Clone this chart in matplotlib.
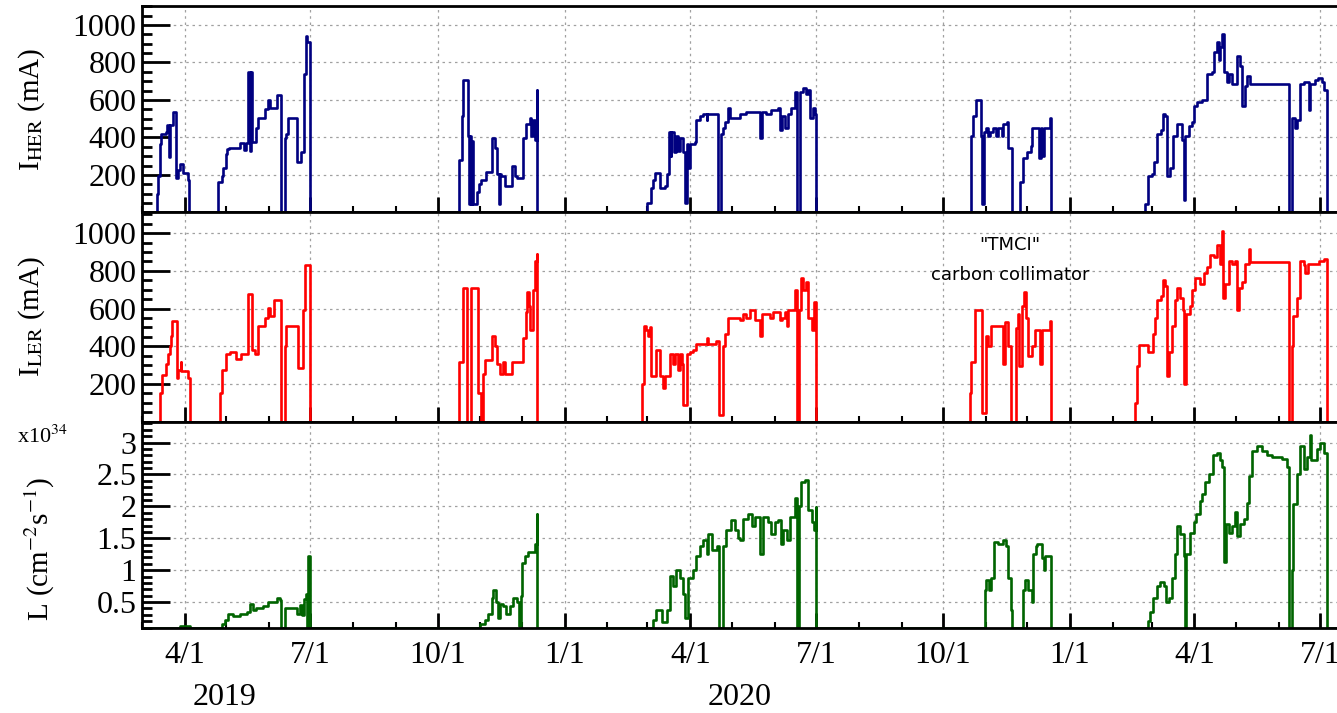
import numpy as np
import pandas as pd
import matplotlib
matplotlib.use("Agg")
import matplotlib.pyplot as plt
import matplotlib.dates as mdates
from matplotlib.ticker import MultipleLocator

# days counted from 2019-03-01, value holds until the next point
start = pd.Timestamp("2019-03-01")
x_end_day = 865.3

her = [
    (0, 0), (10.9, 96), (11.9, 192), (12.9, 363), (14.1, 417), (17.2, 427), (18.1, 466), (19.6, 295), (20.6, 466),
    (22.1, 538), (24.5, 182), (26.1, 224), (27.4, 256), (29.8, 209), (33.4, 171), (34.1, 0),
    (55.1, 160), (57.6, 192), (58.7, 235), (60.5, 310), (61.6, 338), (62.9, 346), (70.8, 368), (73.9, 335),
    (75.2, 368), (76.8, 748), (78.5, 330), (79.0, 748), (80.0, 374), (82.9, 449), (84.1, 502), (88.9, 551),
    (91.3, 598), (93.0, 556), (97.4, 624), (101.0, 0), (103.4, 395), (104.6, 417), (105.8, 502), (112.3, 267),
    (115.5, 320), (117.2, 737), (118.4, 940), (119.8, 908), (121.5, 0),
    (229.6, 278), (231.4, 513), (232.5, 705), (236.1, 406), (237.0, 43), (237.6, 406), (238.3, 43), (239.0, 380),
    (239.6, 43), (242.6, 107), (244.1, 150), (245.8, 171), (249.4, 214), (253.8, 395), (255.5, 342), (257.1, 203),
    (258.6, 43), (259.3, 203), (260.3, 192), (262.7, 139), (267.6, 246), (270.0, 192), (271.2, 182), (276.0, 395),
    (278.4, 470), (280.8, 502), (282.0, 406), (283.2, 491), (284.4, 385), (285.7, 652), (286.1, 0),
    (366.0, 53), (368.9, 128), (370.1, 171), (371.3, 209), (374.9, 128), (378.5, 139), (379.8, 203), (381.7, 427),
    (382.7, 299), (383.4, 427), (385.1, 320), (386.5, 410), (388.0, 330), (389.4, 395), (391.8, 320), (393.0, 53),
    (394.3, 363), (395.4, 235), (396.7, 363), (400.3, 374), (401.0, 491), (403.9, 513), (406.3, 524), (408.8, 491),
    (409.3, 524), (417.2, 0), (419.6, 417), (420.8, 449), (422.0, 481), (424.4, 556), (425.6, 502), (432.9, 524),
    (437.7, 534), (447.3, 395), (448.6, 534), (452.2, 524), (455.8, 545), (460.6, 556), (461.8, 438), (463.1, 513),
    (465.5, 449), (467.9, 524), (470.3, 556), (472.7, 641), (474.4, 0), (476.3, 641), (478.7, 662), (480.7, 630),
    (482.3, 652), (483.6, 502), (486.0, 556), (487.2, 524), (488.4, 0),
    (600.6, 406), (601.8, 513), (603.8, 598), (607.2, 406), (608.6, 43), (609.5, 427), (611.5, 449), (612.7, 406),
    (614.4, 427), (616.3, 453), (618.7, 406), (619.9, 453), (622.4, 406), (623.5, 470), (626.0, 481), (627.1, 342),
    (630.3, 0), (635.6, 160), (637.6, 288), (640.5, 320), (643.4, 353), (644.8, 449), (646.5, 453), (649.4, 288),
    (650.9, 453), (651.6, 300), (652.8, 453), (657.6, 502), (658.1, 0),
    (726.4, 43), (728.8, 192), (731.2, 203), (732.9, 267), (734.9, 417), (737.8, 438), (739.2, 524), (740.8, 513),
    (742.1, 192), (744.5, 235), (746.9, 406), (749.3, 470), (752.9, 385), (754.2, 64), (755.3, 406), (757.8, 459),
    (760.2, 481), (761.4, 566), (763.8, 588), (767.4, 598), (771.1, 737), (774.7, 748), (775.9, 855), (778.3, 908),
    (779.6, 812), (780.5, 880), (781.9, 951), (783.2, 748), (785.6, 694), (787.3, 737), (789.2, 684), (792.9, 833),
    (794.8, 780), (796.5, 566), (798.8, 673), (800.1, 726), (802.4, 684), (830.2, 0), (832.6, 502), (835.0, 449),
    (836.3, 491), (838.6, 684), (841.1, 694), (844.7, 545), (845.8, 684), (849.5, 705), (851.9, 716), (854.3, 694),
    (856.0, 652), (858.4, 0), (866, 0),
]

ler = [
    (0, 0), (13.4, 154), (14.3, 246), (17.7, 304), (18.9, 358), (20.1, 400), (20.9, 454), (21.8, 535), (25.0, 229),
    (26.1, 276), (27.9, 315), (28.6, 268), (33.4, 229), (34.6, 0),
    (56.3, 154), (57.6, 272), (60.7, 358), (63.6, 368), (68.4, 330), (72.0, 358), (76.8, 679), (79.3, 379),
    (81.7, 358), (84.1, 507), (88.9, 550), (91.3, 604), (93.0, 561), (95.4, 647), (101.0, 0), (103.4, 400),
    (104.6, 507), (113.0, 283), (116.7, 593), (117.9, 829), (121.5, 0),
    (229.6, 315), (232.1, 711), (235.4, 0), (237.9, 711), (243.4, 154), (245.8, 0), (247.0, 250), (248.2, 325),
    (253.1, 454), (255.5, 400), (256.7, 304), (259.1, 250), (261.5, 315), (262.7, 250), (267.6, 315), (276.0, 443),
    (278.0, 582), (278.9, 690), (280.3, 615), (281.3, 486), (283.2, 700), (284.4, 850), (285.7, 889), (286.1, 0),
    (361.7, 197), (363.4, 507), (364.8, 486), (366.5, 454), (367.7, 503), (368.9, 240), (372.1, 379), (375.4, 240),
    (376.9, 176), (378.5, 240), (382.2, 358), (384.6, 304), (385.8, 358), (388.2, 272), (389.4, 358), (390.7, 304),
    (391.8, 90), (394.3, 358), (396.7, 368), (399.1, 379), (401.5, 411), (408.8, 443), (409.7, 411), (415.5, 426),
    (417.9, 36), (420.4, 400), (422.0, 465), (424.4, 550), (432.9, 540), (435.3, 572), (437.7, 550), (440.1, 593),
    (443.8, 540), (447.3, 454), (448.6, 572), (454.6, 550), (457.0, 582), (461.8, 540), (463.1, 550), (465.5, 582),
    (466.7, 507), (467.9, 593), (472.7, 700), (474.4, 0), (475.8, 593), (476.9, 764), (478.7, 700), (480.7, 743),
    (482.3, 550), (484.8, 486), (486.5, 636), (487.9, 0),
    (599.4, 154), (600.6, 315), (603.0, 593), (608.6, 47), (611.0, 454), (612.7, 400), (615.1, 507), (623.5, 304),
    (624.7, 529), (627.1, 400), (628.9, 0), (632.7, 497), (634.2, 572), (635.1, 293), (636.9, 615), (638.5, 690),
    (640.0, 550), (641.6, 347), (644.1, 400), (646.5, 486), (650.3, 304), (651.6, 486), (657.6, 533), (658.1, 0),
    (719.1, 101), (720.3, 293), (721.6, 405), (728.8, 368), (732.4, 465), (733.6, 550), (735.3, 647), (737.7, 668),
    (739.2, 754), (740.8, 722), (742.1, 240), (744.0, 368), (745.7, 507), (748.1, 647), (749.8, 711), (751.5, 657),
    (753.7, 593), (754.6, 197), (756.1, 572), (758.5, 615), (760.2, 700), (762.6, 764), (766.2, 732), (768.7, 786),
    (771.1, 818), (773.5, 882), (775.9, 872), (778.3, 936), (780.3, 839), (781.9, 1011), (782.7, 657), (784.3, 732),
    (786.8, 850), (789.2, 839), (791.4, 850), (792.9, 593), (794.1, 711), (796.5, 743), (798.8, 839), (801.3, 914),
    (802.4, 846), (830.2, 0), (832.6, 400), (833.8, 561), (836.3, 657), (838.2, 850), (841.1, 829), (842.3, 786),
    (844.0, 839), (852.0, 850), (855.6, 861), (858.4, 0), (866, 0),
]

lum = [
    (0, 0), (27.5, 0.13), (34.6, 0),
    (57.6, 0.15), (60.0, 0.22), (62.3, 0.31), (66.0, 0.28), (70.8, 0.31), (75.7, 0.34), (78.1, 0.47), (80.5, 0.37),
    (82.9, 0.41), (87.7, 0.44), (91.3, 0.50), (97.4, 0.56), (100.0, 0.53), (101.0, 0), (103.4, 0.41), (112.3, 0.31),
    (114.5, 0.45), (116.0, 0.30), (117.0, 0.55), (118.8, 0.62), (119.3, 0), (120.5, 1.22), (121.8, 0),
    (244.6, 0.15), (248.2, 0.22), (250.6, 0.31), (253.1, 0.56), (254.3, 0.69), (256.2, 0.5), (257.9, 0.25),
    (259.1, 0.47), (261.5, 0.44), (263.9, 0.31), (266.3, 0.44), (268.7, 0.56), (271.2, 0.5), (273.1, 0.12),
    (274.1, 0.59), (275.5, 1.12), (277.2, 1.22), (279.6, 1.28), (284.4, 1.41), (285.7, 1.875), (286.1, 0),
    (370.1, 0.22), (372.1, 0.37), (376.2, 0.19), (379.8, 0.37), (382.2, 0.91), (384.6, 0.75), (387.0, 1.0),
    (389.4, 0.875), (391.8, 0.625), (393.0, 0.25), (395.4, 0.875), (399.1, 1.0), (401.5, 1.22), (403.9, 1.375),
    (406.3, 1.47), (408.8, 1.25), (409.9, 1.56), (412.4, 1.31), (416.0, 1.375), (417.9, 0), (420.4, 1.375),
    (423.2, 1.625), (426.8, 1.78), (429.2, 1.625), (431.6, 1.5), (432.9, 1.47), (435.3, 1.81), (438.9, 1.875),
    (441.4, 1.69), (443.8, 1.84), (447.3, 1.25), (449.8, 1.84), (453.4, 1.75), (455.8, 1.56), (458.2, 1.75),
    (460.6, 1.78), (462.4, 1.41), (464.3, 1.625), (466.7, 1.47), (469.1, 1.84), (472.7, 2.125), (474.4, 0),
    (475.8, 2.0), (477.5, 2.375), (479.9, 2.41), (482.3, 1.94), (484.8, 1.75), (486.5, 1.625), (487.9, 1.99),
    (488.4, 0),
    (610.3, 0.69), (611.5, 0.84), (613.4, 0.69), (615.1, 0.875), (616.8, 1.44), (619.9, 1.41), (623.5, 1.47),
    (625.5, 1.375), (627.1, 0.875), (628.9, 0.375), (630.3, 0), (637.6, 0.69), (639.3, 0.84), (641.6, 0.69),
    (644.1, 0.5), (645.3, 1.25), (647.7, 1.375), (648.0, 1.41), (651.6, 1.19), (652.8, 1.0), (653.7, 1.22),
    (658.1, 0),
    (728.8, 0.2), (730.0, 0.34), (732.4, 0.56), (734.9, 0.75), (737.3, 0.81), (739.7, 0.75), (741.6, 0.5),
    (743.4, 0.56), (745.7, 0.875), (748.1, 1.25), (749.8, 1.69), (751.7, 1.56), (754.2, 1.22), (754.9, 0),
    (756.1, 1.25), (758.5, 1.59), (761.4, 1.75), (763.3, 1.875), (766.2, 2.09), (767.4, 2.19), (769.8, 2.375),
    (772.3, 2.5), (775.4, 2.81), (778.3, 2.84), (780.3, 2.72), (781.9, 2.625), (783.2, 1.125), (785.1, 1.72),
    (786.8, 1.59), (789.2, 1.69), (791.6, 1.91), (792.9, 1.53), (795.3, 1.72), (797.7, 1.81), (800.1, 2.06),
    (801.3, 2.47), (803.8, 2.875), (807.4, 2.94), (811.0, 2.875), (814.6, 2.81), (818.3, 2.78), (821.9, 2.78),
    (825.5, 2.75), (829.1, 2.625), (830.2, 0), (832.6, 1.0), (833.8, 2.03), (836.3, 2.5), (838.6, 2.94),
    (841.1, 2.59), (843.5, 2.78), (845.5, 3.125), (846.4, 2.72), (850.8, 2.9), (853.2, 3.0), (856.1, 2.84),
    (858.4, 0), (866, 0),
]

year_labels = [("2019-04-30", "2019"), ("2020-05-07", "2020")]


def to_dates(days):
    return start + pd.to_timedelta(np.asarray(days, dtype=float), unit="D")


plt.rcParams["font.family"] = ["Liberation Serif", "DejaVu Serif"]
plt.rcParams["mathtext.fontset"] = "stix"

fig = plt.figure(figsize=(13.37, 7.13), dpi=100)
ax1 = fig.add_axes([0.1062, 0.702, 0.8938, 0.2896])
ax2 = fig.add_axes([0.1062, 0.4088, 0.8938, 0.2932])
ax3 = fig.add_axes([0.1062, 0.1192, 0.8938, 0.2896])

lum_floor = 0.094
series = [
    (ax1, her, "#000080", (0, 1101)),
    (ax2, ler, "#ff0000", (0, 1110)),
    (ax3, lum, "#006400", (lum_floor, 3.33)),
]

for ax, data, color, ylim in series:
    d = np.array(data)
    vals = d[:, 1]
    if ax is ax3:
        vals = np.maximum(vals, lum_floor)
    ax.plot(to_dates(d[:, 0]), vals, drawstyle="steps-post", color=color, lw=1.9)
    ax.set_xlim(start, start + pd.Timedelta(days=x_end_day))
    ax.set_ylim(*ylim)
    ax.xaxis.set_major_locator(mdates.MonthLocator(bymonth=[1, 4, 7, 10]))
    ax.xaxis.set_minor_locator(mdates.MonthLocator())
    ax.xaxis.set_major_formatter(mdates.DateFormatter("%-m/%-d"))
    ax.tick_params(axis="x", which="major", direction="in", length=11, width=2, labelsize=23, pad=9)
    ax.tick_params(axis="x", which="minor", direction="in", length=4.5, width=1.5)
    ax.tick_params(axis="y", which="major", direction="in", length=20, width=2, labelsize=23, pad=4)
    ax.tick_params(axis="y", which="minor", direction="in", length=7, width=2)
    ax.grid(True, which="major", color="#a0a0a0", linestyle=(0, (2, 3)), linewidth=0.9)
    for side in ["left", "bottom", "top"]:
        ax.spines[side].set_linewidth(2)
    ax.spines["right"].set_visible(False)

for ax in (ax1, ax2):
    ax.yaxis.set_major_locator(MultipleLocator(200))
    ax.yaxis.set_minor_locator(MultipleLocator(50))
    ax.set_yticks([200, 400, 600, 800, 1000])
    ax.tick_params(axis="x", labelbottom=False)

ax3.set_yticks([0.5, 1, 1.5, 2, 2.5, 3])
ax3.set_yticklabels(["0.5", "1", "1.5", "2", "2.5", "3"])
ax3.yaxis.set_minor_locator(MultipleLocator(0.1))

fig.text(32 / 1337, 1 - 109 / 713, r"I$_{\mathrm{HER}}$ (mA)", rotation=90, ha="center", va="center", fontsize=21)
fig.text(32 / 1337, 1 - 316 / 713, r"I$_{\mathrm{LER}}$ (mA)", rotation=90, ha="center", va="center", fontsize=21)
fig.text(40 / 1337, 1 - 549 / 713, r"L (cm$^{-2}$s$^{-1}$)", rotation=90, ha="center", va="center", fontsize=21)
fig.text(42 / 1337, 1 - 437 / 713, r"x10$^{34}$", ha="center", va="center", fontsize=16)

for date, label in year_labels:
    ax3.text(pd.Timestamp(date), -0.335, label, transform=ax3.get_xaxis_transform(),
             ha="center", va="center", fontsize=23)

note_x = start + pd.Timedelta(days=628.5)
ax2.text(note_x, 938, '"TMCI"', ha="center", va="center", fontsize=13, family="DejaVu Sans")
ax2.text(note_x, 779, "carbon collimator", ha="center", va="center", fontsize=13, family="DejaVu Sans")

fig.savefig("out.png", dpi=100)
